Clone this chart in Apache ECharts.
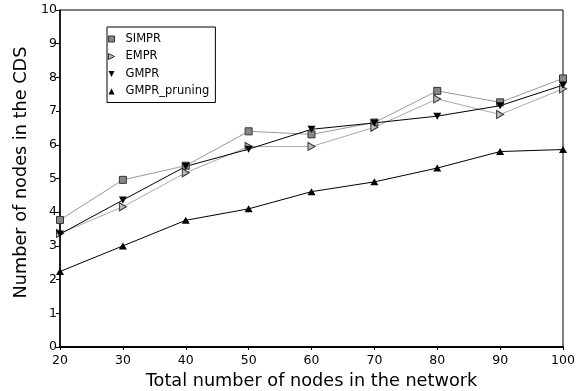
<!DOCTYPE html>
<html><head><meta charset="utf-8">
<script src="https://cdn.jsdelivr.net/npm/echarts@6/dist/echarts.min.js"></script>
<style>html,body{margin:0;padding:0;background:#fff}#c{width:585px;height:391px}</style>
</head><body><div id="c"></div>
<script>
const categories = [20, 30, 40, 50, 60, 70, 80, 90, 100];
const simpr = [3.77, 4.96, 5.38, 6.40, 6.31, 6.66, 7.60, 7.26, 7.97];
const empr = [3.37, 4.16, 5.17, 5.95, 5.95, 6.52, 7.36, 6.90, 7.66];
const gmpr = [3.35, 4.36, 5.36, 5.87, 6.46, 6.65, 6.85, 7.16, 7.77];
const gmprPruning = [2.24, 3.00, 3.76, 4.10, 4.61, 4.90, 5.31, 5.80, 5.86];
const yTicks = [0,1,2,3,4,5,6,7,8,9,10];

const SQUARE = 'path://M0,0 L10,0 L10,10 L0,10 Z';
const RIGHT_TRI = 'path://M0,0 L10,5 L0,10 Z';
const DOWN_TRI = 'path://M0,0 L10,0 L5,10 Z';
const UP_TRI = 'path://M5,0 L10,10 L0,10 Z';
const font = 'DejaVu Sans';

function pts(arr){ return arr.map((v,i)=>[categories[i], v]); }

const chart = echarts.init(document.getElementById('c'), null, {renderer:'canvas'});
chart.setOption({
  animation:false,
  backgroundColor:'#fff',
  textStyle:{fontFamily:font},
  grid:{left:60, right:22, top:10, bottom:44, show:true, borderColor:'#000', borderWidth:1,
    containLabel:false, outerBoundsMode:'none'},
  legend:{
    orient:'vertical', left:107, top:27, padding:[6,6,5,1],
    borderColor:'#000', borderWidth:1, backgroundColor:'#fff',
    itemWidth:10, itemHeight:6, itemGap:5.5, symbolKeepAspect:true,
    textStyle:{fontFamily:font, fontSize:11.5, color:'#000', padding:[0,0,0,4]},
    data:[
      {name:'SIMPR', icon:SQUARE, itemStyle:{color:'#888', borderColor:'#333', borderWidth:1}},
      {name:'EMPR', icon:RIGHT_TRI, itemStyle:{color:'#bbb', borderColor:'#333', borderWidth:1}},
      {name:'GMPR', icon:DOWN_TRI, itemStyle:{color:'#000'}},
      {name:'GMPR_pruning', icon:UP_TRI, itemStyle:{color:'#000'}}
    ]
  },
  xAxis:{
    type:'value', min:20, max:100, interval:10,
    name:'Total number of nodes in the network', nameLocation:'middle', nameGap:24,
    nameTextStyle:{fontFamily:font, fontSize:17.7, color:'#000'},
    axisLine:{show:true, lineStyle:{color:'#000', width:2}},
    axisTick:{show:true, length:3, lineStyle:{color:'#000'}},
    axisLabel:{fontFamily:font, fontSize:12.5, color:'#000', margin:7},
    splitLine:{show:false}
  },
  yAxis:{
    type:'value', min:0, max:10, interval:1,
    name:'Number of nodes in the CDS', nameLocation:'middle', nameGap:26,
    nameTextStyle:{fontFamily:font, fontSize:17.7, color:'#000', padding:[0,0,0,12]},
    axisLine:{show:true, lineStyle:{color:'#000', width:1.5}},
    axisTick:{show:true, length:4, lineStyle:{color:'#000'}},
    axisLabel:{fontFamily:font, fontSize:12.5, color:'#000', margin:3,
      formatter:(v)=> yTicks.includes(v) ? String(v) : ''},
    splitLine:{show:false}
  },
  series:[
    {name:'SIMPR', type:'line', data:pts(simpr), symbol:'rect', symbolSize:7,
      lineStyle:{color:'#999', width:1}, itemStyle:{color:'#888', borderColor:'#333', borderWidth:1}},
    {name:'EMPR', type:'line', data:pts(empr), symbol:RIGHT_TRI, symbolSize:[7,8],
      lineStyle:{color:'#aaa', width:1}, itemStyle:{color:'#bbb', borderColor:'#333', borderWidth:1}},
    {name:'GMPR', type:'line', data:pts(gmpr), symbol:DOWN_TRI, symbolSize:[8,7],
      lineStyle:{color:'#000', width:1}, itemStyle:{color:'#000'}},
    {name:'GMPR_pruning', type:'line', data:pts(gmprPruning), symbol:UP_TRI, symbolSize:[8,7],
      lineStyle:{color:'#000', width:1}, itemStyle:{color:'#000'}}
  ]
});
</script></body></html>
